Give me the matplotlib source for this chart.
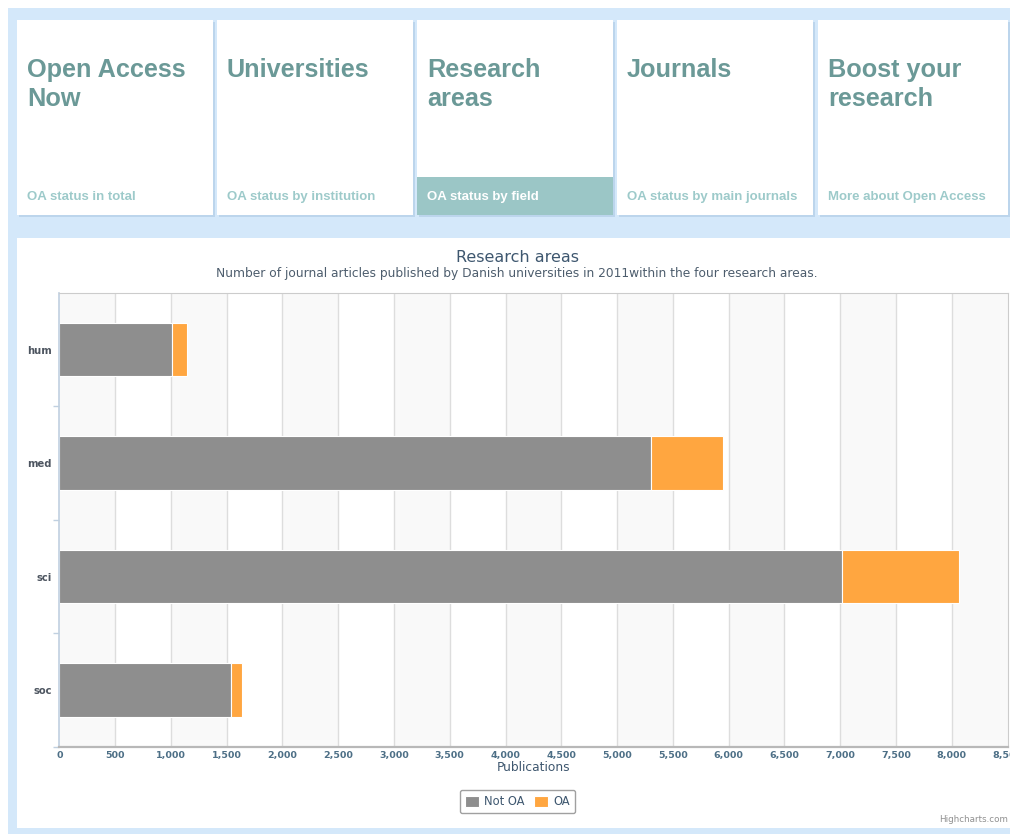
import matplotlib
matplotlib.use("Agg")
import matplotlib.pyplot as plt
from matplotlib.patches import Rectangle
from matplotlib.ticker import FuncFormatter, FixedLocator
import numpy as np

# ---------------- data ----------------
categories = ["hum", "med", "sci", "soc"]
not_oa = [1013, 5304, 7014, 1539]
oa = [132, 643, 1054, 99]
series_names = ["Not OA", "OA"]
series_colors = ["#8e8e8e", "#ffa640"]
x_ticks = list(range(0, 8501, 500))

chart_title = "Research areas"
chart_subtitle = ("Number of journal articles published by Danish universities in "
                  "2011within the four research areas.")
x_title = "Publications"

tile_titles = [["Open Access", "Now"], ["Universities"], ["Research", "areas"],
               ["Journals"], ["Boost your", "research"]]
tile_subs = ["OA status in total", "OA status by institution", "OA status by field",
             "OA status by main journals", "More about Open Access"]
active_tile = 2

# ---------------- figure ----------------
W, H = 1010, 834
fig = plt.figure(figsize=(W / 100, H / 100), dpi=100)
fig.patch.set_facecolor("white")

bg = fig.add_axes([0, 0, 1, 1], zorder=0)
bg.set_xlim(0, W)
bg.set_ylim(H, 0)
bg.axis("off")

BLUE = "#d4e8fa"
SHADOW = "#bcd5ec"
bg.add_patch(Rectangle((8, 8), W - 8, H - 8, facecolor=BLUE, edgecolor="none"))

tile_x = [17, 217, 417, 617, 818]
tile_w = 196
for i, x0 in enumerate(tile_x):
    w = tile_w if i < 4 else W - 2 - x0
    bg.add_patch(Rectangle((x0 + 1.5, 21.5), w, 195, facecolor=SHADOW, edgecolor="none"))
    bg.add_patch(Rectangle((x0, 20), w, 195, facecolor="white", edgecolor="none"))
    sub_color = "#9dcaca"
    if i == active_tile:
        bg.add_patch(Rectangle((x0, 177), w, 38, facecolor="#9bc6c6", edgecolor="none"))
        sub_color = "white"
    for j, line in enumerate(tile_titles[i]):
        bg.text(x0 + 10, 77 + 28.5 * j, line, family="Liberation Sans", weight="bold",
                fontsize=18.2, color="#6b9997", va="baseline", ha="left")
    bg.text(x0 + 10, 200, tile_subs[i], family="Liberation Sans", weight="bold",
            fontsize=9.5, color=sub_color, va="baseline", ha="left")

# chart panel
bg.add_patch(Rectangle((17, 238), W - 17, 590, facecolor="white", edgecolor="none"))

bg.text(518, 258, chart_title, family="DejaVu Sans", fontsize=11.5, color="#3e576f",
        ha="center", va="center")
bg.text(517, 274, chart_subtitle, family="DejaVu Sans", fontsize=8.8, color="#4d5d6d",
        ha="center", va="center")
bg.text(1008, 819, "Highcharts.com", family="DejaVu Sans", fontsize=6.3, color="#909090",
        ha="right", va="center")

# ---------------- chart axes ----------------
px_l, px_r, px_t, px_b = 59.3, 1007.5, 293, 746.7
ax = fig.add_axes([px_l / W, 1 - px_b / H, (px_r - px_l) / W, (px_b - px_t) / H], zorder=1)
ax.set_facecolor("white")
ax.set_xlim(0, 8500)
ax.set_ylim(len(categories) - 0.5, -0.5)

for k, t in enumerate(x_ticks[:-1]):
    if k % 2 == 0:
        ax.axvspan(t, x_ticks[k + 1], facecolor="#f9f9f9", edgecolor="none", zorder=0)
for t in x_ticks[1:-1]:
    ax.axvline(t, color="#dddddd", lw=1.0, zorder=0.5)

y = np.arange(len(categories))
ax.barh(y, not_oa, height=0.47, color=series_colors[0], edgecolor="white", linewidth=0.8,
        label=series_names[0], zorder=2)
ax.barh(y, oa, left=not_oa, height=0.47, color=series_colors[1], edgecolor="white",
        linewidth=0.8, label=series_names[1], zorder=2)

ax.set_xticks(x_ticks)
ax.xaxis.set_major_formatter(FuncFormatter(lambda v, p: f"{int(v):,}"))
ax.tick_params(axis="x", length=0, pad=3, labelsize=6.8, labelcolor="#4d6f86")
for lab in ax.get_xticklabels():
    lab.set_fontweight("bold")

ax.set_yticks(y)
ax.set_yticklabels(categories, fontsize=7.2, fontweight="bold", color="#4d5560")
ax.tick_params(axis="y", which="major", length=0, pad=5.5)
ax.yaxis.set_minor_locator(FixedLocator(np.arange(1, len(categories) + 1) - 0.5))
ax.tick_params(axis="y", which="minor", length=4, width=1, color="#c0d0e0")

ax.set_xlabel(x_title, fontsize=8.8, color="#3e576f", labelpad=1)

ax.spines["left"].set_color("#c0d0e0")
ax.spines["left"].set_linewidth(1.2)
ax.spines["bottom"].set_color("#b8b8b8")
ax.spines["bottom"].set_linewidth(1.6)
ax.spines["top"].set_color("#cccccc")
ax.spines["right"].set_color("#cccccc")

leg = fig.legend(loc="center", bbox_to_anchor=(517.5 / W, 1 - 801.5 / H), ncol=2,
                 frameon=True, fancybox=True, fontsize=8.3, handlelength=1.2,
                 handleheight=1.1, handletextpad=0.5, columnspacing=0.8,
                 borderpad=0.45, borderaxespad=0, edgecolor="#a0a0a0", framealpha=1)
for t in leg.get_texts():
    t.set_color("#3e576f")
leg.get_frame().set_linewidth(1.0)

fig.savefig("out.png", dpi=100, facecolor="white")
